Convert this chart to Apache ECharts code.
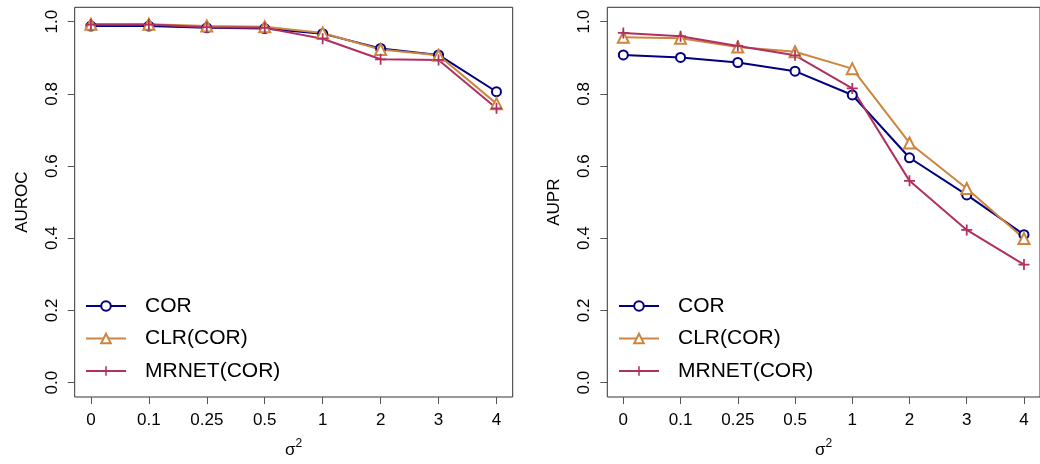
<!DOCTYPE html>
<html>
<head>
<meta charset="utf-8">
<script src="https://cdn.jsdelivr.net/npm/echarts@6/dist/echarts.min.js"></script>
<style>
html,body{margin:0;padding:0;background:#fff;}
#c{width:1040px;height:464px;}
</style>
</head>
<body>
<div id="c"></div>
<script>
var categories = ['0', '0.1', '0.25', '0.5', '1', '2', '3', '4'];
var yTicks = [0, 0.2, 0.4, 0.6, 0.8, 1.0];
var seriesNames = ['COR', 'CLR(COR)', 'MRNET(COR)'];
var aurocCOR   = [0.988, 0.988, 0.983, 0.981, 0.967, 0.926, 0.908, 0.806];
var aurocCLR   = [0.993, 0.993, 0.988, 0.986, 0.969, 0.923, 0.907, 0.773];
var aurocMRNET = [0.992, 0.992, 0.985, 0.983, 0.953, 0.896, 0.894, 0.760];
var auprCOR    = [0.908, 0.901, 0.887, 0.863, 0.797, 0.623, 0.520, 0.410];
var auprCLR    = [0.957, 0.954, 0.930, 0.917, 0.870, 0.664, 0.538, 0.399];
var auprMRNET  = [0.969, 0.960, 0.933, 0.907, 0.815, 0.559, 0.423, 0.327];

var colors = ['#000080', '#CD853F', '#B03060'];
var plusPath = 'path://M4.2,0H5.8V4.2H10V5.8H5.8V10H4.2V5.8H0V4.2H4.2Z';
var symbols = ['emptyCircle', 'emptyTriangle', plusPath];
var symbolSizes = [9, 11, 11];
var FONT = 'Liberation Sans, Arial, Helvetica, sans-serif';
var AX = 17;

var idx = categories.map(function (c, i) { return i; });

function pairs(arr) { return arr.map(function (v, i) { return [i, v]; }); }

function xAxis(gi) {
  return {
    type: 'value', gridIndex: gi, min: -0.28, max: 7.28,
    name: '{s|σ}{p|2}', nameLocation: 'middle', nameGap: 41,
    nameTextStyle: { rich: {
      s: { fontSize: AX, fontFamily: FONT, color: '#000', verticalAlign: 'bottom' },
      p: { fontSize: 12, fontFamily: FONT, color: '#000', verticalAlign: 'top', padding: [0, 0, 9, 0] }
    } },
    axisLine: { show: false, onZero: false },
    splitLine: { show: false },
    axisTick: { show: true, customValues: idx, length: 7, inside: false, lineStyle: { color: '#555', width: 1 } },
    axisLabel: { customValues: idx, margin: 15, fontSize: AX, fontFamily: FONT, color: '#000',
      formatter: function (v) { return categories[Math.round(v)]; } }
  };
}
function yAxis(gi, name) {
  return {
    type: 'value', gridIndex: gi, min: -0.04, max: 1.04,
    name: name, nameLocation: 'middle', nameGap: 44, nameRotate: 90,
    nameTextStyle: { fontSize: AX, fontFamily: FONT, color: '#000' },
    axisLine: { show: false, onZero: false },
    splitLine: { show: false },
    axisTick: { show: true, customValues: yTicks, length: 7, lineStyle: { color: '#555', width: 1 } },
    axisLabel: { customValues: yTicks, margin: 14, rotate: 90, fontSize: AX, fontFamily: FONT, color: '#000',
      formatter: function (v) { return v.toFixed(1); } }
  };
}
function mkSeries(gi, arrs) {
  return arrs.map(function (arr, k) {
    return {
      name: seriesNames[k], type: 'line', xAxisIndex: gi, yAxisIndex: gi,
      data: pairs(arr), symbol: symbols[k], symbolSize: symbolSizes[k],
      showAllSymbol: true, animation: false,
      lineStyle: { color: colors[k], width: 2 },
      itemStyle: k === 2 ? { color: colors[k], borderWidth: 0 } : { color: colors[k], borderColor: colors[k], borderWidth: 2 }
    };
  });
}
function legend(left) {
  return {
    orient: 'vertical', left: left, top: 290, itemWidth: 40, itemHeight: 12, itemGap: 10.5,
    data: seriesNames,
    textStyle: { fontSize: 21, fontFamily: FONT, color: '#000', padding: [0, 0, 0, 14], lineHeight: 22 },
    selectedMode: false
  };
}

var chart = echarts.init(document.getElementById('c'), null, { renderer: 'canvas' });
chart.setOption({
  backgroundColor: '#fff',
  animation: false,
  legend: [legend(80), legend(613)],
  grid: [
    { left: 74.7, top: 7.3, width: 438, height: 392.7, show: true, borderColor: '#333', borderWidth: 1, backgroundColor: 'transparent' },
    { left: 607.3, top: 7.3, width: 438, height: 392.7, show: true, borderColor: '#333', borderWidth: 1, backgroundColor: 'transparent' }
  ],
  xAxis: [xAxis(0), xAxis(1)],
  yAxis: [yAxis(0, 'AUROC'), yAxis(1, 'AUPR')],
  series: mkSeries(0, [aurocCOR, aurocCLR, aurocMRNET]).concat(mkSeries(1, [auprCOR, auprCLR, auprMRNET]))
});
</script>
</body>
</html>
